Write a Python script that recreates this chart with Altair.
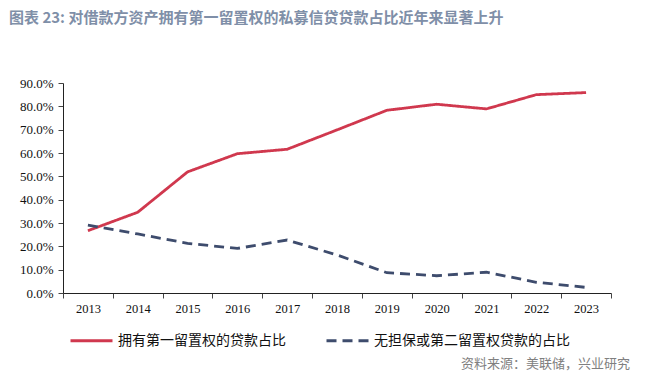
import altair as alt
import pandas as pd

years = ["2013", "2014", "2015", "2016", "2017", "2018", "2019", "2020", "2021", "2022", "2023"]
first_lien = [0.267, 0.346, 0.519, 0.597, 0.616, 0.699, 0.783, 0.809, 0.789, 0.850, 0.859]
unsecured = [0.291, 0.253, 0.213, 0.191, 0.227, 0.163, 0.087, 0.074, 0.089, 0.046, 0.024]
series_names = ["拥有第一留置权的贷款占比", "无担保或第二留置权贷款的占比"]
series_colors = ["#d0384e", "#3e4c6d"]
title_text = "图表 23: 对借款方资产拥有第一留置权的私募信贷贷款占比近年来显著上升"
source_text = "资料来源：美联储，兴业研究"
y_ticks = [0.0, 0.1, 0.2, 0.3, 0.4, 0.5, 0.6, 0.7, 0.8, 0.9]

rows = []
for i, y in enumerate(years):
    rows.append({"year": y, "value": first_lien[i], "series": series_names[0]})
    rows.append({"year": y, "value": unsecured[i], "series": series_names[1]})
df = pd.DataFrame(rows)

lines = alt.Chart(df).mark_line(strokeWidth=2.8).encode(
    x=alt.X("year:N", sort=years, title=None,
            scale=alt.Scale(paddingInner=0, paddingOuter=0),
            axis=alt.Axis(labelAngle=0, tickBand="extent", domainColor="#222", tickColor="#444",
                          tickSize=5, labelFont="Liberation Serif", labelFontSize=12.5,
                          labelColor="#111", labelPadding=4, grid=False)),
    y=alt.Y("value:Q", title=None,
            scale=alt.Scale(domain=[0, 0.9], nice=False),
            axis=alt.Axis(values=y_ticks, format=".1%", domainColor="#222", tickColor="#444",
                          tickSize=5, labelFont="Liberation Serif", labelFontSize=13,
                          labelColor="#111", labelPadding=5, grid=False)),
    color=alt.Color("series:N", sort=series_names,
                    scale=alt.Scale(domain=series_names, range=series_colors),
                    legend=alt.Legend(title=None, orient="none", legendX=6, legendY=235,
                                      direction="horizontal", columns=2, columnPadding=34,
                                      symbolType="stroke", symbolSize=1764, symbolStrokeWidth=2.8,
                                      labelFont="Noto Sans CJK SC", labelFontSize=14,
                                      labelColor="#111", labelOffset=4, labelLimit=400)),
    strokeDash=alt.StrokeDash("series:N", sort=series_names,
                              scale=alt.Scale(domain=series_names, range=[[1, 0], [10, 6]]),
                              legend=None),
)

title = alt.Chart(pd.DataFrame({"t": [title_text]})).mark_text(
    align="left", baseline="middle", font="Noto Sans CJK SC", fontSize=15,
    fontWeight="bold", color="#7f8fa8"
).encode(text="t:N", x=alt.value(-54), y=alt.value(-65))

source = alt.Chart(pd.DataFrame({"t": [source_text]})).mark_text(
    align="right", baseline="middle", font="Noto Sans CJK SC", fontSize=13,
    color="#808080"
).encode(text="t:N", x=alt.value(567), y=alt.value(281))

chart = alt.layer(lines, title, source).properties(
    width=548, height=210,
    autosize=alt.AutoSizeParams(type="none"),
    padding={"left": 55, "top": 75, "right": 28, "bottom": 81},
).configure_view(stroke=None)

chart.save("out.html", embed_options={"renderer": "svg", "actions": False})
